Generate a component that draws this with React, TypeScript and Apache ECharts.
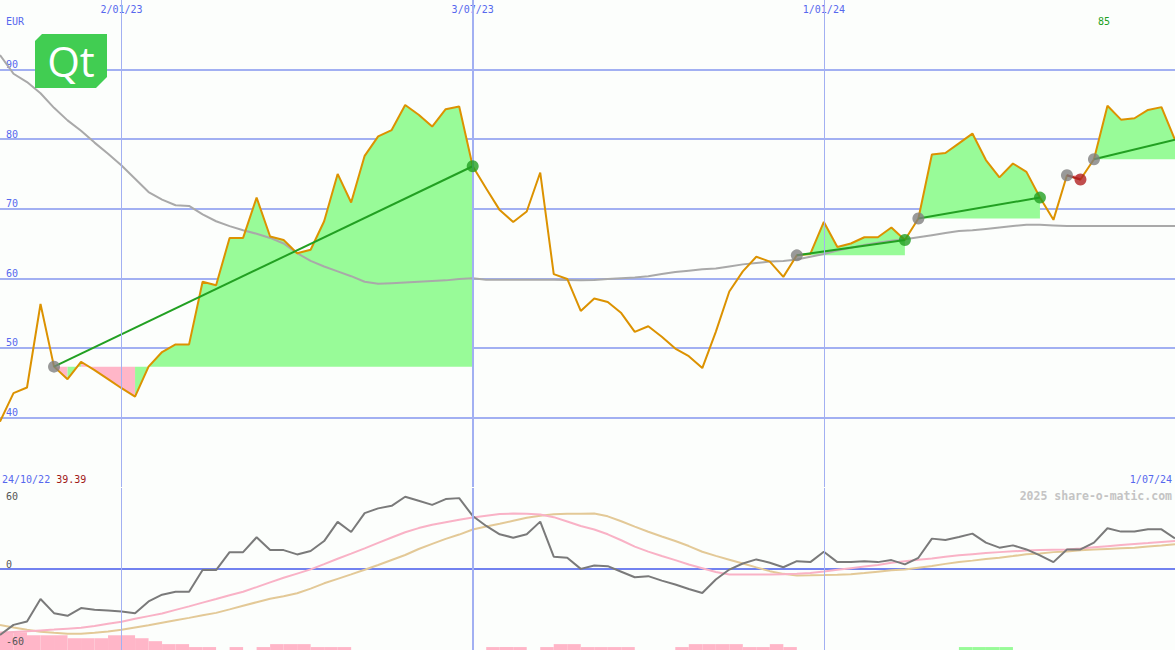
import React, { useEffect, useRef } from 'react';
import * as echarts from 'echarts';

// ---------- data ----------
const START_UTC = Date.UTC(2022, 9, 31);
const WEEK_COUNT = 88;
const DATES: string[] = Array.from({ length: WEEK_COUNT }, (_, i) => {
  const d = new Date(START_UTC + i * 7 * 86400000);
  return `${d.getUTCDate()}/${String(d.getUTCMonth() + 1).padStart(2, '0')}/${String(d.getUTCFullYear()).slice(2)}`;
});

const VLINE_DATES = ['2/01/23', '3/07/23', '1/01/24'];
const FIRST_DATE_LABEL = '24/10/22';
const CURRENCY = 'EUR';
const HIGH_LABEL = '85';
const WATERMARK = '2025 share-o-matic.com';

const PRICE = [
  39.39, 43.5, 44.3, 56.3, 47.3, 45.5, 48.0, 46.8, 45.5, 44.2,
  43.0, 47.3, 49.4, 50.5, 50.5, 59.5, 59.0, 65.8, 65.8, 71.6,
  66.0, 65.5, 63.6, 64.1, 68.2, 75.0, 70.9, 77.6, 80.4, 81.3,
  84.9, 83.5, 81.8, 84.3, 84.7, 76.1, 72.9, 69.8, 68.1, 69.6,
  75.2, 60.6, 59.9, 55.3, 57.1, 56.6, 55.0, 52.3, 53.1, 51.6,
  49.9, 48.8, 47.1, 52.3, 58.1, 61.0, 63.1, 62.4, 60.2, 63.3,
  63.5, 68.1, 64.5, 65.0, 65.9, 65.9, 67.3, 65.5, 68.6, 77.8,
  78.0, 79.4, 80.8, 77.0, 74.5, 76.5, 75.3, 71.6, 68.4, 74.8,
  74.2, 77.1, 84.8, 82.8, 83.0, 84.2, 84.6, 79.9,
];

const MOVING_AVG = [
  92.1, 89.4, 88.2, 86.6, 84.5, 82.7, 81.2, 79.5, 77.9, 76.2,
  74.3, 72.4, 71.3, 70.5, 70.4, 69.2, 68.2, 67.5, 66.9, 66.4,
  65.8, 65.0, 63.6, 62.5, 61.7, 61.0, 60.3, 59.5, 59.2, 59.3,
  59.4, 59.5, 59.6, 59.7, 59.9, 60.0, 59.8, 59.8, 59.8, 59.8,
  59.8, 59.8, 59.75, 59.7, 59.75, 59.9, 60.0, 60.1, 60.3, 60.6,
  60.9, 61.1, 61.3, 61.4, 61.7, 62.0, 62.2, 62.4, 62.5, 62.7,
  63.1, 63.5, 64.0, 64.4, 64.8, 65.1, 65.4, 65.6, 65.9, 66.2,
  66.5, 66.8, 66.9, 67.1, 67.3, 67.5, 67.7, 67.7, 67.6, 67.5,
  67.5, 67.5, 67.5, 67.5, 67.5, 67.5, 67.5, 67.5,
];

// signal trades: start index, end index (null = still open)
const SIGNAL_STARTS = [4, 59, 68, 79, 81];
const SIGNAL_ENDS: (number | null)[] = [35, 67, 77, 80, null];

const MOMENTUM = [
  -48.8, -41.4, -38.9, -22.2, -32.7, -34.7, -28.9, -30.2, -30.7, -31.4,
  -32.7, -24.0, -19.0, -16.8, -16.8, -0.8, -0.8, 12.5, 12.5, 23.5,
  14.0, 14.0, 10.8, 13.3, 20.7, 34.9, 27.4, 41.4, 44.9, 46.8,
  53.5, 50.5, 47.5, 51.8, 52.5, 39.3, 31.9, 25.7, 23.2, 25.7,
  35.1, 9.1, 8.3, 0.1, 2.6, 2.1, -2.0, -6.1, -5.3, -8.6,
  -11.5, -14.8, -17.8, -7.8, -0.4, 4.1, 7.1, 4.6, 1.3, 5.8,
  5.1, 12.8, 5.1, 5.1, 5.8, 5.1, 6.6, 3.4, 8.3, 22.5,
  21.5, 23.7, 26.2, 19.5, 15.8, 17.5, 14.5, 10.1, 5.1, 14.5,
  14.5, 19.5, 30.2, 27.7, 27.7, 29.4, 29.4, 22.7,
];

const SIGNAL_FAST = [
  -47.1, -46.6, -46.1, -45.5, -44.9, -44.2, -43.5, -42.2, -40.6, -39.0,
  -36.9, -34.9, -33.0, -30.3, -27.7, -24.9, -22.2, -19.4, -16.8, -13.4,
  -9.9, -6.5, -3.4, -0.3, 3.6, 7.6, 11.4, 15.3, 19.3, 23.3,
  27.2, 30.3, 32.8, 34.7, 36.5, 38.1, 39.4, 40.7, 41.1, 41.0,
  40.3, 38.4, 35.2, 31.8, 29.3, 25.7, 21.3, 16.6, 12.9, 9.6,
  6.6, 3.3, 0.6, -2.2, -4.1, -4.1, -4.1, -4.1, -3.8, -3.5,
  -3.0, -1.9, -0.6, 0.6, 1.8, 3.0, 4.6, 5.8, 6.8, 7.7,
  9.0, 10.1, 11.0, 11.8, 12.5, 13.1, 13.7, 14.1, 14.3, 14.5,
  15.2, 16.1, 16.9, 17.7, 18.5, 19.2, 20.0, 20.7,
];

const SIGNAL_SLOW = [
  -41.4, -43.3, -45.0, -46.4, -47.3, -47.9, -48.0, -47.3, -46.3, -45.0,
  -43.3, -41.6, -39.8, -38.0, -36.2, -34.3, -32.5, -29.9, -27.2, -24.6,
  -22.1, -20.2, -18.0, -14.5, -10.6, -7.3, -4.0, -0.6, 3.0, 6.7,
  10.4, 14.8, 18.6, 22.3, 25.5, 29.3, 31.5, 33.5, 35.7, 37.9,
  39.5, 40.5, 41.0, 41.0, 41.1, 39.0, 35.4, 31.4, 27.6, 24.1,
  20.7, 17.0, 12.8, 9.7, 6.9, 4.1, 1.2, -1.6, -3.6, -4.8,
  -4.7, -4.5, -4.2, -3.8, -3.0, -2.0, -1.0, -0.3, 1.0, 2.3,
  3.8, 5.1, 6.2, 7.4, 8.4, 9.6, 10.9, 11.5, 12.5, 13.0,
  13.8, 14.4, 14.9, 15.4, 15.8, 16.6, 17.4, 18.3,
];

// weekly histogram (one bar per week interval), negative = pink, positive = green
const HISTOGRAM = [
  -6, -6, -5, -5, -5, -4, -4, -4, -5, -5,
  -4, -3, -2, -2, -1, -1, 0, -1, 0, -1,
  -2, -2, -2, -1, -1, -1, 0, 0, 0, 0,
  0, 0, 0, 0, 0, 0, -1, -1, -1, 0,
  -1, -2, -2, -1, -1, -1, -1, 0, 0, 0,
  -1, -2, -2, -2, -2, -1, -1, -2, -1, 0,
  0, 0, 0, 0, 0, 0, 0, 0, 0, 0,
  0, 1, 1, 1, 1, 0, 0, 0, 0, 0,
  0, 0, 0, 0, 0, 0, 0,
];

// ---------- styles ----------
const BG = '#fcfefc';
const GRID_BLUE = '#a2b0f2';
const SEP_BLUE = '#7282ef';
const LABEL_BLUE = '#5668ee';
const LOWER_LABEL = '#555555';
const MONO = '"DejaVu Sans Mono", monospace';
const FILL_UP = '#98fb98';
const FILL_DOWN = '#ffb6c8';
const PRICE_COLOR = '#dc9200';
const MA_COLOR = '#a9a9a9';
const TREND_UP = '#22a022';
const TREND_DOWN = '#b22222';
const MARK_START = '#808080';

export default function App() {
  const ref = useRef<HTMLDivElement>(null);

  useEffect(() => {
    if (!ref.current) return;
    document.body.style.margin = '0';
    const chart = echarts.init(ref.current, undefined, { renderer: 'svg' });
    const last = PRICE.length - 1;

    const renderFill = (_params: any, api: any) => {
      const s = api.value(0) as number;
      const e = api.value(1) as number;
      const base = PRICE[s];
      const children: any[] = [];
      const flush = (a: number, b: number, col: string) => {
        const pts: number[][] = [api.coord([a, base])];
        for (let k = a; k <= b; k++) pts.push(api.coord([k, PRICE[k]]));
        pts.push(api.coord([b, base]));
        children.push({ type: 'polygon', shape: { points: pts }, style: { fill: col } });
      };
      let runStart = s;
      let runCol = '';
      for (let i = s; i < e; i++) {
        const col = PRICE[i + 1] >= base ? FILL_UP : FILL_DOWN;
        if (i === s) {
          runCol = col;
        } else if (col !== runCol) {
          flush(runStart, i, runCol);
          runStart = i;
          runCol = col;
        }
      }
      flush(runStart, e, runCol);
      return { type: 'group', children };
    };

    const trades = SIGNAL_STARTS.map((s, k) => {
      const end = SIGNAL_ENDS[k];
      return { s, e: end == null ? last : end, closed: end != null };
    });

    const trendSeries = trades.map((t) => ({
      type: 'line',
      xAxisIndex: 0,
      yAxisIndex: 0,
      data: [
        [DATES[t.s], PRICE[t.s]],
        [DATES[t.e], PRICE[t.e]],
      ],
      symbol: 'none',
      silent: true,
      z: 4,
      lineStyle: { color: PRICE[t.e] >= PRICE[t.s] ? TREND_UP : TREND_DOWN, width: 2 },
    }));

    const markerData: any[] = [];
    trades.forEach((t) => {
      markerData.push({ value: [DATES[t.s], PRICE[t.s]], itemStyle: { color: MARK_START } });
      if (t.closed) {
        markerData.push({
          value: [DATES[t.e], PRICE[t.e]],
          itemStyle: { color: PRICE[t.e] >= PRICE[t.s] ? TREND_UP : TREND_DOWN },
        });
      }
    });

    const vlineWidth = (d: string) => (d.split('/')[1] === '07' ? 2 : 1);
    const vlines = VLINE_DATES.map((d) => ({
      xAxis: d,
      lineStyle: { color: GRID_BLUE, width: vlineWidth(d), type: 'solid' },
    }));

    const labelStyle = { fontFamily: MONO, fontSize: 10 };
    const lowerLabelAxis = (valueShown: number, vAlign: string, extra: any = {}) => ({
      type: 'value', gridIndex: 1, min: -60, max: 60, interval: 60, position: 'left', z: 10,
      axisLine: { show: false }, axisTick: { show: false }, splitLine: { show: false },
      axisLabel: {
        inside: true, verticalAlign: vAlign, margin: 6, color: LOWER_LABEL, ...labelStyle,
        showMinLabel: true, showMaxLabel: true,
        formatter: (v: number) => (v === valueShown ? String(v) : ''),
        ...extra,
      },
    });

    const option: any = {
      animation: false,
      backgroundColor: BG,
      grid: [
        { left: 0, right: 0, top: 0, height: 487 },
        { left: 0, right: 0, top: 488, height: 162 },
      ],
      xAxis: [
        {
          type: 'category', gridIndex: 0, data: DATES, boundaryGap: false, position: 'top',
          axisLine: { show: false }, axisTick: { show: false }, splitLine: { show: false },
          axisLabel: {
            inside: true, margin: 4, color: LABEL_BLUE, ...labelStyle,
            interval: (_i: number, v: string) => VLINE_DATES.includes(v),
          },
        },
        {
          type: 'category', gridIndex: 1, data: DATES, boundaryGap: false, position: 'top',
          axisLine: { show: true, lineStyle: { color: SEP_BLUE, width: 2 } },
          axisTick: { show: false }, axisLabel: { show: false }, splitLine: { show: false },
        },
        {
          type: 'category', gridIndex: 1, data: DATES.slice(0, HISTOGRAM.length),
          boundaryGap: true, position: 'bottom', show: false,
        },
      ],
      yAxis: [
        {
          type: 'value', gridIndex: 0, min: 30, max: 100, interval: 10, position: 'left',
          axisLine: { show: false }, axisTick: { show: false },
          axisLabel: {
            inside: true, verticalAlign: 'bottom', margin: 6, color: LABEL_BLUE, ...labelStyle,
            showMinLabel: false, showMaxLabel: false,
          },
          splitLine: { show: true, showMinLine: false, showMaxLine: false, lineStyle: { color: GRID_BLUE, width: 2 } },
        },
        {
          type: 'value', gridIndex: 1, min: -60, max: 60, interval: 60, position: 'left',
          axisLine: { show: false }, axisTick: { show: false },
          axisLabel: {
            inside: true, verticalAlign: 'bottom', margin: 6, color: LOWER_LABEL, ...labelStyle,
            formatter: (v: number) => (v === 0 ? '0' : ''),
          },
          splitLine: { show: true, showMinLine: false, showMaxLine: false, lineStyle: { color: GRID_BLUE, width: 2 } },
        },
        lowerLabelAxis(60, 'top', { padding: [3, 0, 0, 0] }),
        { type: 'value', gridIndex: 1, min: 0, max: 55, show: false, position: 'left' },
        lowerLabelAxis(-60, 'bottom', { padding: [0, 0, 4, 0] }),
      ],
      series: [
        {
          type: 'line', xAxisIndex: 0, yAxisIndex: 0, data: [], silent: true, z: 0,
          markLine: { silent: true, symbol: ['none', 'none'], label: { show: false }, data: vlines },
        },
        {
          type: 'line', xAxisIndex: 1, yAxisIndex: 1, data: [], silent: true, z: 0,
          markLine: { silent: true, symbol: ['none', 'none'], label: { show: false }, data: vlines },
        },
        {
          type: 'custom', xAxisIndex: 0, yAxisIndex: 0, silent: true, z: 1,
          data: trades.map((t) => [t.s, t.e]),
          encode: { x: 0, y: 1 },
          renderItem: renderFill,
        },
        {
          type: 'line', xAxisIndex: 0, yAxisIndex: 0, data: MOVING_AVG, symbol: 'none', silent: true, z: 2,
          lineStyle: { color: MA_COLOR, width: 2 },
        },
        {
          type: 'line', xAxisIndex: 0, yAxisIndex: 0, data: PRICE, symbol: 'none', silent: true, z: 3,
          lineStyle: { color: PRICE_COLOR, width: 2 },
        },
        ...trendSeries,
        {
          type: 'scatter', xAxisIndex: 0, yAxisIndex: 0, data: markerData, symbolSize: 12, silent: true, z: 5,
        },
        {
          type: 'bar', xAxisIndex: 2, yAxisIndex: 3, silent: true, z: 1,
          barWidth: '100%', barCategoryGap: 0,
          data: HISTOGRAM.map((v) => ({ value: Math.abs(v), itemStyle: { color: v < 0 ? FILL_DOWN : FILL_UP } })),
        },
        {
          type: 'line', xAxisIndex: 1, yAxisIndex: 1, data: SIGNAL_SLOW, symbol: 'none', silent: true, z: 2,
          lineStyle: { color: '#e3c997', width: 2 },
        },
        {
          type: 'line', xAxisIndex: 1, yAxisIndex: 1, data: SIGNAL_FAST, symbol: 'none', silent: true, z: 2,
          lineStyle: { color: '#f9b2c6', width: 2 },
        },
        {
          type: 'line', xAxisIndex: 1, yAxisIndex: 1, data: MOMENTUM, symbol: 'none', silent: true, z: 3,
          lineStyle: { color: '#7a7a7a', width: 2 },
        },
      ],
      graphic: [
        {
          type: 'polygon', z: 20,
          shape: { points: [[42, 34], [107, 34], [107, 77], [96, 88], [35, 88], [35, 41]] },
          style: { fill: '#41cd52' },
        },
        {
          type: 'text', x: 71, y: 60, z: 21,
          style: { text: 'Qt', fill: '#ffffff', fontSize: 42, fontFamily: '"Open Sans", sans-serif', align: 'center', verticalAlign: 'middle' },
        },
        {
          type: 'text', x: 6, y: 21, z: 21,
          style: { text: CURRENCY, fill: LABEL_BLUE, ...labelStyle, align: 'left', verticalAlign: 'middle' },
        },
        {
          type: 'text', x: 1104, y: 21, z: 21,
          style: { text: HIGH_LABEL, fill: TREND_UP, ...labelStyle, align: 'center', verticalAlign: 'middle' },
        },
        {
          type: 'text', x: 2, y: 479, z: 21,
          style: {
            text: `{d|${FIRST_DATE_LABEL}} {v|${PRICE[0].toFixed(2)}}`,
            ...labelStyle, align: 'left', verticalAlign: 'middle',
            rich: { d: { fill: LABEL_BLUE, ...labelStyle }, v: { fill: '#a01818', ...labelStyle } },
          },
        },
        {
          type: 'text', x: 1172, y: 479, z: 21,
          style: { text: DATES[last], fill: LABEL_BLUE, ...labelStyle, align: 'right', verticalAlign: 'middle' },
        },
        {
          type: 'text', x: 1172, y: 496, z: 21,
          style: { text: WATERMARK, fill: '#c4c4c4', fontFamily: MONO, fontSize: 11.5, fontWeight: 'bold', align: 'right', verticalAlign: 'middle' },
        },
      ],
    };

    chart.setOption(option);
    return () => chart.dispose();
  }, []);

  return (
    <div
      ref={ref}
      style={{ position: 'absolute', left: 0, top: 0, width: 1175, height: 650, background: BG }}
    />
  );
}
